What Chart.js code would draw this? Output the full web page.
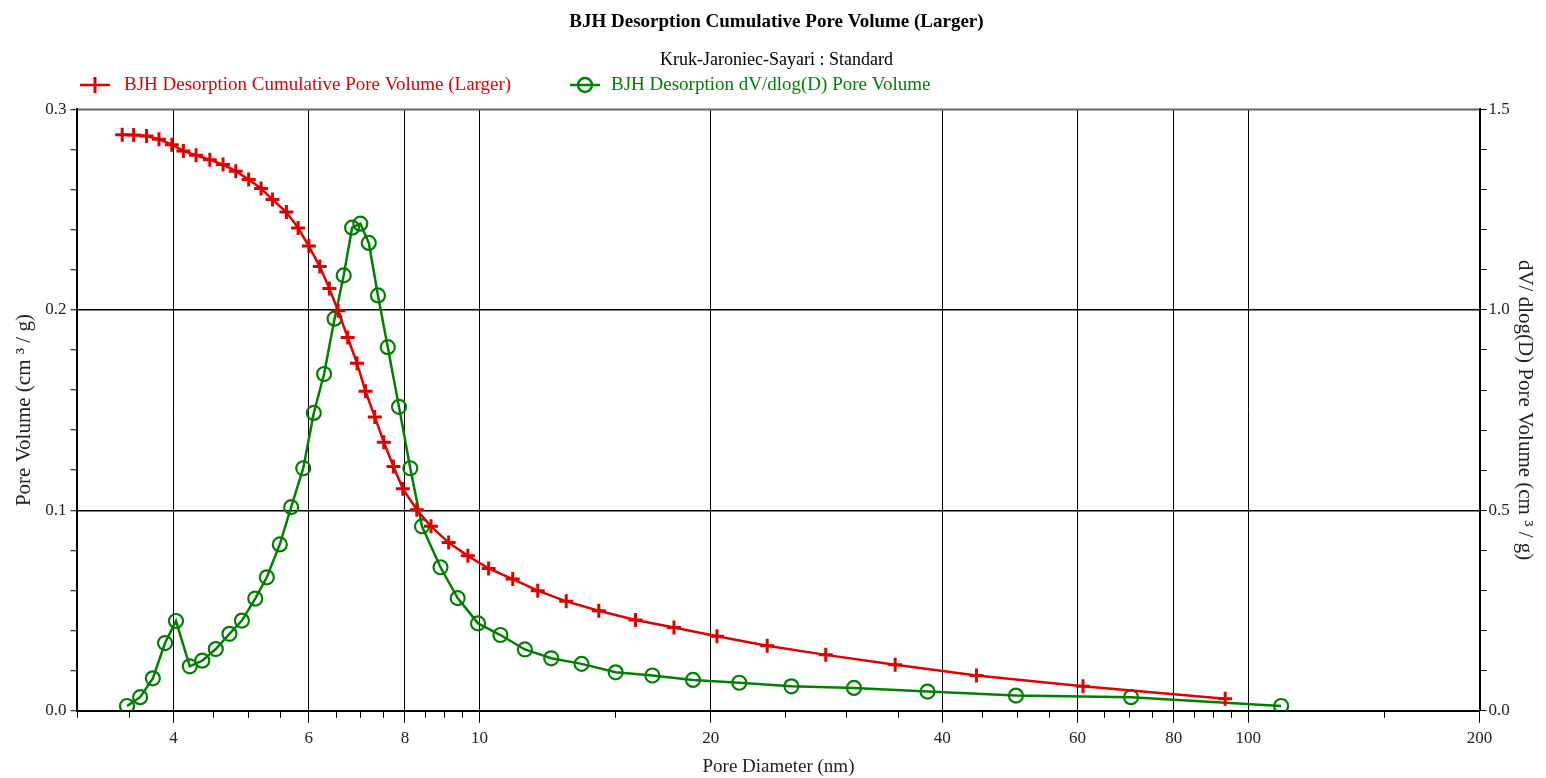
<!DOCTYPE html>
<html>
<head>
<meta charset="utf-8">
<script src="https://cdn.jsdelivr.net/npm/chart.js@4/dist/chart.umd.min.js"></script>
<style>
  html, body { margin: 0; padding: 0; background: #fff; }
  .wrap { width: 1546px; height: 778px; position: relative; }
</style>
</head>
<body>
<div class="wrap"><canvas id="chart"></canvas></div>
<script>
// cumulative pore volume (left axis)
const cumDiameter = [3.43, 3.55, 3.69, 3.83, 3.98, 4.12, 4.28, 4.46, 4.64, 4.82, 5.01, 5.20, 5.38, 5.61, 5.81, 6.00, 6.20, 6.38, 6.55, 6.74, 6.93, 7.11, 7.31, 7.51, 7.73, 7.95, 8.29, 8.65, 9.12, 9.66, 10.28, 11.05, 11.91, 12.97, 14.30, 15.96, 17.91, 20.37, 23.68, 28.22, 34.74, 44.32, 60.98, 93.35];
const cumVolume = [0.2873, 0.2872, 0.2867, 0.2851, 0.2824, 0.2793, 0.2771, 0.2749, 0.2725, 0.2692, 0.2650, 0.2606, 0.2550, 0.2488, 0.2409, 0.2318, 0.2216, 0.2106, 0.1995, 0.1862, 0.1734, 0.1594, 0.1466, 0.1340, 0.1219, 0.1108, 0.1003, 0.0920, 0.0839, 0.0773, 0.0710, 0.0657, 0.0599, 0.0546, 0.0499, 0.0453, 0.0416, 0.0372, 0.0325, 0.0279, 0.0230, 0.0176, 0.0123, 0.0060];

// dV/dlog(D) (right axis)
const dvDiameter = [3.48, 3.62, 3.76, 3.90, 4.03, 4.20, 4.36, 4.54, 4.73, 4.91, 5.11, 5.29, 5.50, 5.69, 5.90, 6.09, 6.28, 6.48, 6.66, 6.83, 7.00, 7.18, 7.38, 7.60, 7.86, 8.13, 8.42, 8.90, 9.37, 9.96, 10.65, 11.46, 12.40, 13.58, 15.04, 16.79, 18.96, 21.78, 25.46, 30.71, 38.28, 49.88, 70.41, 110.4];
const dvVolume = [0.012, 0.034, 0.081, 0.169, 0.224, 0.111, 0.125, 0.154, 0.192, 0.225, 0.280, 0.333, 0.415, 0.508, 0.605, 0.743, 0.840, 0.978, 1.086, 1.205, 1.215, 1.167, 1.036, 0.907, 0.758, 0.605, 0.460, 0.358, 0.281, 0.218, 0.189, 0.153, 0.131, 0.117, 0.096, 0.088, 0.077, 0.070, 0.061, 0.057, 0.048, 0.038, 0.034, 0.012];

// axis ticks
const xMajorTicks = [4, 6, 8, 10, 20, 40, 60, 80, 100, 200];
const xMinorTicks = [3, 3.5, 4.5, 5, 5.5, 6.5, 7, 7.5, 8.5, 9, 9.5, 15, 25, 30, 35, 45, 50, 55, 65, 70, 75, 85, 90, 95, 150];
const leftTicks = [0, 0.02, 0.04, 0.06, 0.08, 0.1, 0.12, 0.14, 0.16, 0.18, 0.2, 0.22, 0.24, 0.26, 0.28, 0.3];
const leftLabels = [0, 0.1, 0.2, 0.3];
const rightTicks = [0, 0.1, 0.2, 0.3, 0.4, 0.5, 0.6, 0.7, 0.8, 0.9, 1.0, 1.1, 1.2, 1.3, 1.4, 1.5];
const rightLabels = [0, 0.5, 1.0, 1.5];

const RED = "#e00000";
const GREEN = "#008000";
const FONT = "'Liberation Serif', 'Times New Roman', serif";

const isLabel = (list, v) => list.some(l => Math.abs(l - v) < 1e-6);

// minor ticks on the log axis + frame top line
const extras = {
  id: "extras",
  afterDraw(chart) {
    const ctx = chart.ctx;
    const x = chart.scales.x;
    const area = chart.chartArea;
    ctx.save();
    ctx.strokeStyle = "#000";
    ctx.lineWidth = 1;
    xMinorTicks.forEach(v => {
      const px = Math.round(x.getPixelForValue(v)) + 0.5;
      ctx.beginPath();
      ctx.moveTo(px, area.bottom);
      ctx.lineTo(px, area.bottom + 7);
      ctx.stroke();
    });
    ctx.strokeStyle = "#666";
    ctx.lineWidth = 2;
    ctx.beginPath();
    ctx.moveTo(area.left, area.top);
    ctx.lineTo(area.right, area.top);
    ctx.stroke();
    ctx.restore();
  }
};

// legend: line with marker then label
const lineLegend = {
  id: "lineLegend",
  afterDraw(chart) {
    const ctx = chart.ctx;
    const y = 85;
    const items = [
      { x: 80, textX: 124, ds: chart.data.datasets[0] },
      { x: 570, textX: 611, ds: chart.data.datasets[1] }
    ];
    ctx.save();
    items.forEach(it => {
      const c = it.ds.borderColor;
      ctx.strokeStyle = c;
      ctx.lineWidth = 2.5;
      ctx.beginPath();
      ctx.moveTo(it.x, y);
      ctx.lineTo(it.x + 30, y);
      ctx.stroke();
      const cx = it.x + 15;
      if (it.ds.pointStyle === "cross") {
        ctx.lineWidth = 3;
        ctx.beginPath();
        ctx.moveTo(cx, y - 8);
        ctx.lineTo(cx, y + 8);
        ctx.stroke();
      } else {
        ctx.beginPath();
        ctx.arc(cx, y, 7, 0, Math.PI * 2);
        ctx.stroke();
      }
      ctx.fillStyle = c;
      ctx.font = "19px " + FONT;
      ctx.textBaseline = "middle";
      ctx.textAlign = "left";
      ctx.fillText(it.ds.label, it.textX, y);
    });
    ctx.restore();
  }
};

new Chart(document.getElementById("chart"), {
  type: "line",
  data: {
    datasets: [
      {
        label: "BJH Desorption Cumulative Pore Volume (Larger)",
        data: cumDiameter.map((d, i) => ({ x: d, y: cumVolume[i] })),
        yAxisID: "y",
        borderColor: RED,
        backgroundColor: RED,
        borderWidth: 2.5,
        pointStyle: "cross",
        pointRadius: 7,
        pointBorderWidth: 3,
        tension: 0
      },
      {
        label: "BJH Desorption dV/dlog(D) Pore Volume",
        data: dvDiameter.map((d, i) => ({ x: d, y: dvVolume[i] })),
        yAxisID: "y1",
        borderColor: GREEN,
        backgroundColor: "rgba(0,0,0,0)",
        borderWidth: 2.5,
        pointStyle: "circle",
        pointRadius: 7,
        pointBorderWidth: 2.2,
        tension: 0
      }
    ]
  },
  options: {
    responsive: true,
    maintainAspectRatio: false,
    animation: false,
    layout: { padding: { left: 12, right: 5, top: 0, bottom: 0 } },
    plugins: {
      legend: { display: false },
      tooltip: { enabled: false },
      title: {
        display: true,
        text: "BJH Desorption Cumulative Pore Volume (Larger)",
        color: "#000",
        font: { family: FONT, size: 19, weight: "bold" },
        padding: { top: 11, bottom: 16 }
      },
      subtitle: {
        display: true,
        text: "Kruk-Jaroniec-Sayari : Standard",
        color: "#000",
        font: { family: FONT, size: 18 },
        padding: { top: 0, bottom: 38 }
      }
    },
    scales: {
      x: {
        type: "logarithmic",
        position: "bottom",
        min: 3,
        max: 200,
        afterBuildTicks: s => { s.ticks = xMajorTicks.map(v => ({ value: v })); },
        ticks: {
          autoSkip: false,
          maxRotation: 0,
          color: "#222",
          font: { family: FONT, size: 17 },
          padding: 6,
          callback: v => String(v)
        },
        grid: { color: "#000", lineWidth: 1, tickLength: 12, tickColor: "#000" },
        border: { color: "#000", width: 2 },
        title: {
          display: true,
          text: "Pore Diameter (nm)",
          color: "#222",
          font: { family: FONT, size: 19 },
          padding: { top: 0, bottom: 0 }
        }
      },
      y: {
        position: "left",
        min: 0,
        max: 0.3,
        afterBuildTicks: s => { s.ticks = leftTicks.map(v => ({ value: v })); },
        ticks: {
          autoSkip: false,
          color: "#222",
          font: { family: FONT, size: 17 },
          padding: 4,
          callback: v => isLabel(leftLabels, v) ? v.toFixed(1) : ""
        },
        grid: {
          color: c => (c.tick && isLabel([0.1, 0.2], c.tick.value)) ? "#000" : "rgba(0,0,0,0)",
          lineWidth: 1.5,
          tickLength: 7,
          tickColor: "#000",
          tickWidth: 1
        },
        border: { color: "#000", width: 2 },
        title: {
          display: true,
          text: "Pore Volume (cm ³ / g)",
          color: "#222",
          font: { family: FONT, size: 21 },
          padding: { top: 0, bottom: 4 }
        }
      },
      y1: {
        position: "right",
        min: 0,
        max: 1.5,
        afterBuildTicks: s => { s.ticks = rightTicks.map(v => ({ value: v })); },
        ticks: {
          autoSkip: false,
          color: "#222",
          font: { family: FONT, size: 17 },
          padding: 2,
          callback: v => isLabel(rightLabels, v) ? v.toFixed(1) : ""
        },
        grid: { drawOnChartArea: false, tickLength: 7, tickColor: "#000", tickWidth: 1 },
        border: { color: "#000", width: 2 },
        title: {
          display: true,
          text: "dV/ dlog(D) Pore Volume (cm ³ / g)",
          color: "#222",
          font: { family: FONT, size: 21 },
          padding: { top: 4, bottom: 0 }
        }
      }
    }
  },
  plugins: [extras, lineLegend]
});
</script>
</body>
</html>
